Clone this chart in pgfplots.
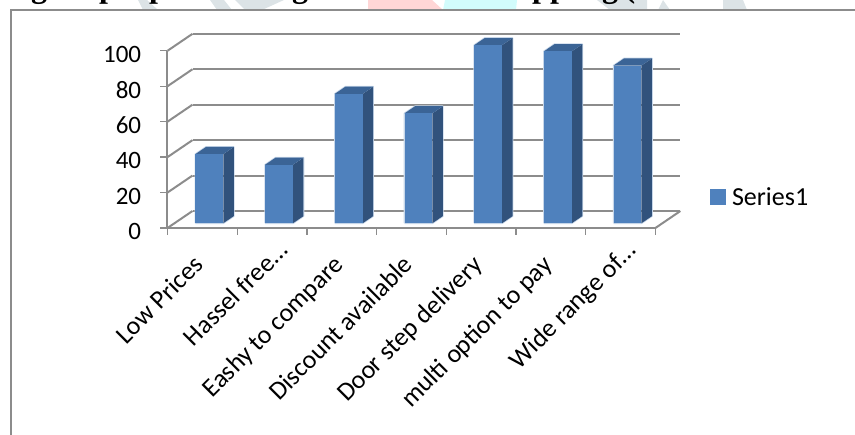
\documentclass[border=0pt]{standalone}
\usepackage{fontspec}
\setmainfont{Carlito}
\newfontfamily\headfont{Liberation Serif}[BoldFont={Liberation Serif Bold}]
\usepackage{pgfplots}
\pgfplotsset{compat=1.18}

\definecolor{gridgray}{HTML}{8C8C8C}
\definecolor{barfront}{HTML}{4F81BD}
\definecolor{barside}{HTML}{31527C}
\definecolor{bartop}{HTML}{3B6496}
\definecolor{barhalo}{HTML}{C6D6E9}
\definecolor{shadegray}{HTML}{DCE3E6}
\definecolor{shadepink}{HTML}{FFD6D6}
\definecolor{shadecyan}{HTML}{D2FCFC}

% One column: front, side and top faces of a box standing on the floor
\newcommand{\drawcolumn}[2]{%
  \pgfmathsetmacro{\xl}{#1+0.3}%
  \pgfmathsetmacro{\xr}{#1+0.7}%
  \edef\faces{%
    \noexpand\addplot3[forget plot, draw=barhalo, line width=1.6pt, line join=round]
      coordinates {(\xl,0.28,0) (\xl,0.28,#2) (\xl,0.70,#2) (\xr,0.70,#2) (\xr,0.70,0) (\xr,0.28,0) (\xl,0.28,0)};
    \noexpand\addplot3[forget plot, fill=barside, draw=none]
      coordinates {(\xr,0.28,0) (\xr,0.70,0) (\xr,0.70,#2) (\xr,0.28,#2)} -- cycle;
    \noexpand\addplot3[forget plot, fill=bartop, draw=none]
      coordinates {(\xl,0.28,#2) (\xr,0.28,#2) (\xr,0.70,#2) (\xl,0.70,#2)} -- cycle;
    \noexpand\addplot3[forget plot, fill=barfront, draw=none]
      coordinates {(\xl,0.28,0) (\xr,0.28,0) (\xr,0.28,#2) (\xl,0.28,#2)} -- cycle;
  }%
  \faces
}

\begin{document}
\begin{tikzpicture}[x=1pt,y=1pt]
\useasboundingbox (0,0) rectangle (855,-435);

% Page behind the chart: faint emblem and the last line of the heading
\begin{scope}
  \clip (0,0) rectangle (855,-10);
  \fill[shadegray] (138,0) -- (147,0) -- (158,-10) -- (143,-10) -- cycle;
  \fill[shadegray] (210,0) -- (224,0) -- (232,-10) -- (217,-10) -- cycle;
  \fill[shadegray] (235,0) -- (284,0) -- (262,-10) -- (245,-10) -- cycle;
  \fill[shadegray] (597,0) -- (647,0) -- (647,-10) -- (610,-10) -- cycle;
  \fill[shadegray] (663,0) -- (670,-10) -- (658,-10) -- cycle;
  \fill[shadegray] (723,0) -- (743,0) -- (747,-10) -- (723,-10) -- cycle;
  \fill[shadepink] (368,0) -- (432,0) -- (443,-10) -- (368,-10) -- cycle;
  \fill[shadecyan] (445,0) -- (517,0) -- (516,-10) -- (443,-10) -- cycle;
  \foreach \cx/\letter in {39/g,108/p,158/p,300/g,541/p,559/p,610/g,630/(}
    \node[font=\headfont\bfseries\fontsize{32}{32}\selectfont, anchor=base, inner sep=0pt]
      at (\cx,2.5) {\letter};
\end{scope}

% Frame of the chart object
\draw[gridgray, line width=1.6pt] (11,-435) -- (11,-10) -- (855,-10);

\begin{axis}[
  at={(167.5pt,-228pt)}, anchor=origin,
  x={(69.7pt,0pt)}, y={(25pt,17pt)}, z={(0pt,1.772pt)},
  xmin=0, xmax=7, ymin=0, ymax=1, zmin=0, zmax=100,
  clip=false,
  axis line style={draw=none},
  ytick=\empty,
  xtick={0.5,1.5,2.5,3.5,4.5,5.5,6.5},
  xticklabels={Low Prices,Hassel free\dots\kern-20pt,Eashy to compare,Discount available,Door step delivery,multi option to pay,Wide range of\dots\kern-20pt},
  ztick={0,20,40,60,80,100},
  zmajorgrids=true,
  grid style={gridgray, line width=2pt},
  major grid style={gridgray, line width=2pt},
  major tick length=7.5pt,
  tick align=outside,
  xtick pos=left, ztick pos=left,
  x tick style={draw=none},
  z tick style={draw=none},
  /pgf/number format/assume math mode=true,
  ticklabel style={font=\fontsize{25}{25}\selectfont, black},
  xticklabel style={font=\fontsize{26}{26}\selectfont, rotate=45, anchor=north east, inner sep=0pt, xshift=-17.7pt, yshift=-12.2pt},
  zticklabel style={anchor=east, inner sep=0pt, xshift=-20pt, yshift=0.5pt},
  legend style={draw=none, fill=none, font=\fontsize{26}{26}\selectfont,
    at={(1.08,0.5)}, anchor=west, inner sep=0pt, row sep=0pt, xshift=-12pt, yshift=-66pt},
  legend image code/.code={\fill[barfront] (0pt,-7.5pt) rectangle (15pt,7.5pt);},
]
  % Axis edges that are not part of the wall grid
  \addplot3[forget plot, gridgray, line width=2pt] coordinates {(0,0,0) (0,0,100)};
  \addplot3[forget plot, gridgray, line width=2pt] coordinates {(0,0,0) (7,0,0)};
  \addplot3[forget plot, gridgray, line width=2pt] coordinates {(7,0,0) (7,1,0)};

  % Tick marks stay horizontal and vertical on the oblique projection
  \pgfplotsinvokeforeach{0,1,2,3,4,5,6,7}{
    \draw[gridgray, line width=1.4pt] (axis cs:#1,0,0) -- ++(0pt,-7.5pt);
  }
  \pgfplotsinvokeforeach{0,20,40,60,80,100}{
    \draw[gridgray, line width=1.4pt] (axis cs:0,0,#1) -- ++(-7.5pt,0pt);
  }

  \drawcolumn{0}{39}
  \drawcolumn{1}{33}
  \drawcolumn{2}{73}
  \drawcolumn{3}{62}
  \drawcolumn{4}{100.5}
  \drawcolumn{5}{97}
  \drawcolumn{6}{89}

  \addlegendimage{fill=barfront}
  \addlegendentry{\hspace{5pt}Series1}
\end{axis}
\end{tikzpicture}
\end{document}
